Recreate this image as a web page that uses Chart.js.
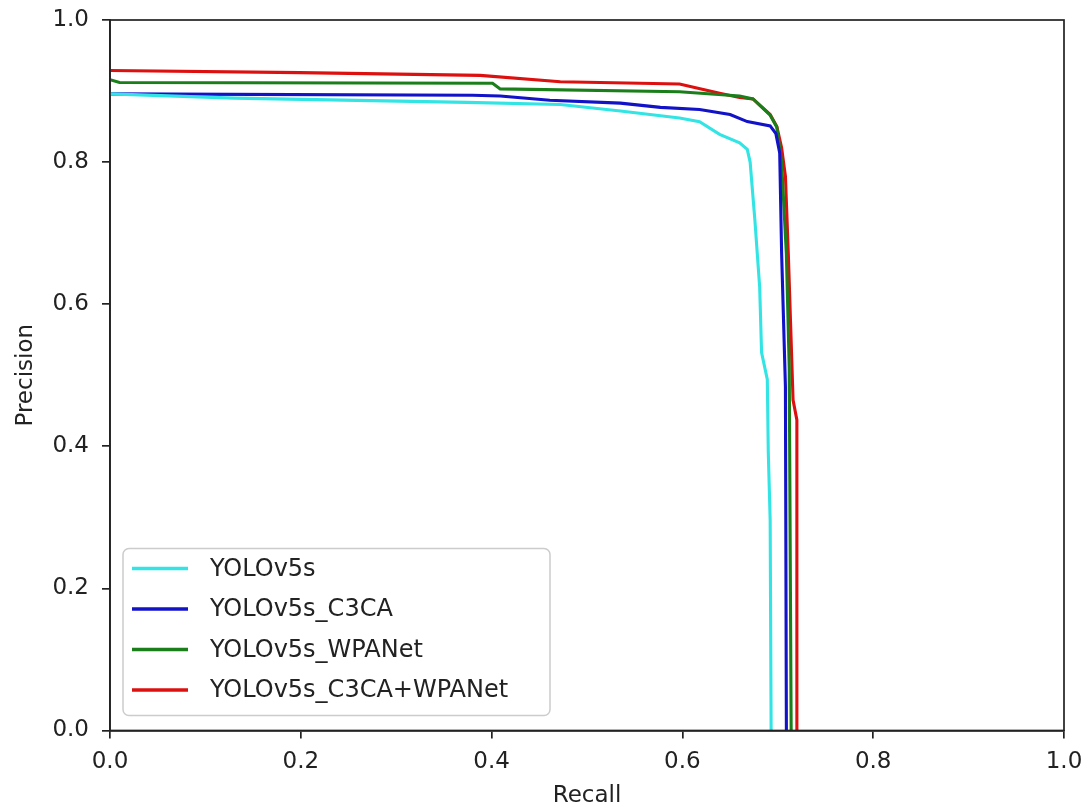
<!DOCTYPE html>
<html>
<head>
<meta charset="utf-8">
<script src="https://cdn.jsdelivr.net/npm/chart.js@4.4.0/dist/chart.umd.min.js"></script>
<style>
  body { margin: 0; background: #fff; }
  #wrap { width: 1088px; height: 812px; }
</style>
</head>
<body>
<div id="wrap"><canvas id="prChart" width="1088" height="812"></canvas></div>
<script>
// Curvas precision-recall
const modelNames = ["YOLOv5s", "YOLOv5s_C3CA", "YOLOv5s_WPANet", "YOLOv5s_C3CA+WPANet"];
const lineColors = ["#33e4e4", "#1212c8", "#1a7f1a", "#dd1010"];

const recallV5s = [0, 0.13, 0.374, 0.472, 0.535, 0.597, 0.618, 0.639, 0.66, 0.668, 0.671, 0.676, 0.681, 0.683, 0.689, 0.69, 0.692, 0.693];
const precV5s   = [0.896, 0.89, 0.884, 0.881, 0.872, 0.862, 0.857, 0.839, 0.827, 0.818, 0.8, 0.718, 0.624, 0.532, 0.494, 0.393, 0.296, 0];

const recallC3CA = [0, 0.38, 0.409, 0.461, 0.535, 0.577, 0.618, 0.65, 0.668, 0.692, 0.698, 0.702, 0.704, 0.708, 0.709];
const precC3CA   = [0.896, 0.894, 0.893, 0.887, 0.883, 0.877, 0.874, 0.867, 0.857, 0.851, 0.84, 0.813, 0.672, 0.484, 0];

const recallWPA = [0, 0.01, 0.401, 0.409, 0.597, 0.66, 0.674, 0.692, 0.699, 0.704, 0.709, 0.712, 0.714];
const precWPA   = [0.916, 0.912, 0.911, 0.903, 0.899, 0.893, 0.889, 0.866, 0.849, 0.8, 0.67, 0.51, 0];

const recallBoth = [0, 0.199, 0.388, 0.472, 0.597, 0.639, 0.66, 0.674, 0.692, 0.699, 0.704, 0.708, 0.711, 0.716, 0.72, 0.72];
const precBoth   = [0.929, 0.926, 0.922, 0.913, 0.91, 0.897, 0.891, 0.889, 0.867, 0.85, 0.82, 0.78, 0.672, 0.465, 0.437, 0];

const axisTicks = [0, 0.2, 0.4, 0.6, 0.8, 1.0];

const zip = (xs, ys) => xs.map((x, i) => ({ x: x, y: ys[i] }));
const series = [
  zip(recallV5s, precV5s),
  zip(recallC3CA, precC3CA),
  zip(recallWPA, precWPA),
  zip(recallBoth, precBoth),
];

const FONT = "'DejaVu Sans', sans-serif";

// marco completo (arriba y derecha) como en matplotlib
const frameBox = {
  id: "frameBox",
  afterDatasetsDraw(chart) {
    const { ctx, chartArea: a } = chart;
    ctx.save();
    ctx.strokeStyle = "#222";
    ctx.lineWidth = 1.7;
    ctx.strokeRect(a.left, a.top, a.right - a.left, a.bottom - a.top);
    ctx.restore();
  },
};

// leyenda dentro del area, abajo a la izquierda
const innerLegend = {
  id: "innerLegend",
  afterDraw(chart) {
    const { ctx, chartArea: a } = chart;
    const x = a.left + 13, w = 427, h = 167;
    const y = a.bottom - 15 - h;
    ctx.save();
    ctx.fillStyle = "rgba(255,255,255,0.85)";
    ctx.strokeStyle = "#cccccc";
    ctx.lineWidth = 1.5;
    ctx.beginPath();
    ctx.roundRect(x, y, w, h, 6);
    ctx.fill();
    ctx.stroke();
    ctx.font = "24px " + FONT;
    ctx.textBaseline = "middle";
    chart.data.datasets.forEach((ds, i) => {
      const cy = y + 20 + i * 40.5;
      ctx.strokeStyle = ds.borderColor;
      ctx.lineWidth = 3.5;
      ctx.beginPath();
      ctx.moveTo(x + 9, cy);
      ctx.lineTo(x + 65, cy);
      ctx.stroke();
      ctx.fillStyle = "#222";
      ctx.fillText(ds.label, x + 87, cy + 1);
    });
    ctx.restore();
  },
};

const tickStyle = { color: "#222", font: { size: 23, family: FONT } };

new Chart(document.getElementById("prChart").getContext("2d"), {
  type: "line",
  data: {
    datasets: series.map((pts, i) => ({
      label: modelNames[i],
      data: pts,
      borderColor: lineColors[i],
      borderWidth: 3.1,
      pointRadius: 0,
      tension: 0,
      fill: false,
    })),
  },
  options: {
    responsive: false,
    animation: false,
    layout: { padding: { top: 20, right: 24, left: 0, bottom: 0 } },
    plugins: {
      legend: { display: false },
      tooltip: { enabled: false },
    },
    scales: {
      x: {
        type: "linear",
        min: 0,
        max: 1,
        afterFit: (s) => { s.height = 81.5; s.paddingRight = 0; s.paddingLeft = 0; },
        afterBuildTicks: (s) => { s.ticks = axisTicks.map((v) => ({ value: v })); },
        ticks: { ...tickStyle, padding: 10, maxRotation: 0, callback: (v) => v.toFixed(1) },
        grid: { display: true, drawOnChartArea: false, tickLength: 8, color: "#222", lineWidth: 1.7 },
        border: { display: true, color: "#222", width: 1.7 },
        title: { display: true, text: "Recall", color: "#222", font: { size: 23, family: FONT }, padding: { top: 0, bottom: 2 } },
      },
      y: {
        type: "linear",
        min: 0,
        max: 1,
        afterFit: (s) => { s.width = 110; s.paddingTop = 0; s.paddingBottom = 0; },
        afterBuildTicks: (s) => { s.ticks = axisTicks.map((v) => ({ value: v })); },
        ticks: { ...tickStyle, padding: 13, callback: (v) => v.toFixed(1) },
        grid: { display: true, drawOnChartArea: false, tickLength: 8, color: "#222", lineWidth: 1.7 },
        border: { display: true, color: "#222", width: 1.7 },
        title: { display: true, text: "Precision", color: "#222", font: { size: 23, family: FONT }, padding: { top: 12, bottom: 0 } },
      },
    },
  },
  plugins: [frameBox, innerLegend],
});
</script>
</body>
</html>
